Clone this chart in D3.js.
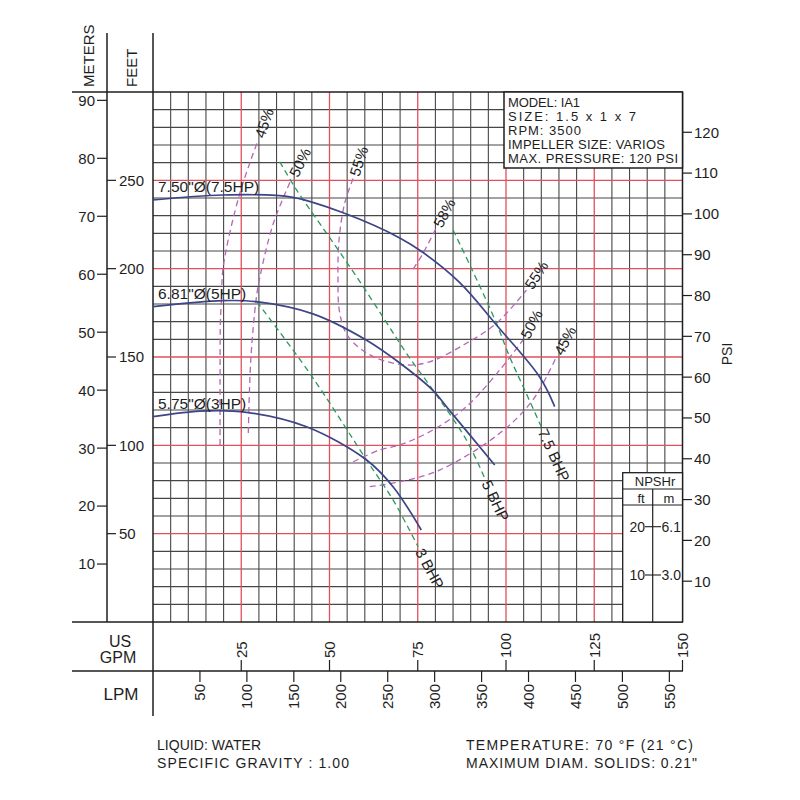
<!DOCTYPE html>
<html><head><meta charset="utf-8">
<script src="https://cdn.jsdelivr.net/npm/d3@7"></script>
<style>
body{margin:0;background:#fff}
text{font-family:"Liberation Sans",Arial,sans-serif;fill:#1e1e1e}
</style>
</head><body>
<svg id="c" width="800" height="800"></svg>
<script>
// ---------------- data (GPM, feet) ----------------
const gpmTicks = [25, 50, 75, 100, 125, 150];
const lpmTicks = [50, 100, 150, 200, 250, 300, 350, 400, 450, 500, 550];
const meterTicks = [10, 20, 30, 40, 50, 60, 70, 80, 90];
const feetTicks = [50, 100, 150, 200, 250];
const psiTicks = [10, 20, 30, 40, 50, 60, 70, 80, 90, 100, 110, 120];

const headLabels = ['7.50"Ø(7.5HP)', '6.81"Ø(5HP)', '5.75"Ø(3HP)'];
const head750 = [[0,238.9],[19.8,241.7],[39.6,240.4],[54.8,230.9],[69.9,217.4],[76.4,209.3],[86.9,192.1],[97.3,168.1],[109.5,138.8],[113.8,121.9]];
const head681 = [[0,178.5],[19.8,181.9],[29.3,181.3],[45.3,174.4],[60.5,159.5],[69.9,146.6],[79.2,131.3],[84.1,119.5],[96.8,88.9]];
const head575 = [[0,116.2],[13.3,119.4],[26.5,118.7],[43.5,110.5],[60.5,91.7],[68.0,76.6],[76.0,52.1]];

const bhpLabels = ["3 BHP", "5 BHP", "7.5 BHP"];
const bhp3 = [[29.4,181.3],[44.4,140.8],[60.5,91.7],[68.0,69.1],[75.1,42.6]];
const bhp5 = [[35.9,260.5],[40.7,244.5],[49.2,220.0],[57.7,195.4],[65.7,170.9],[71.8,152.1],[79.3,131.3],[88.8,103.0],[94.0,81.3]];
const bhp75 = [[85.0,221.9],[90.2,200.2],[97.3,169.1],[101.0,150.2],[105.3,131.3],[110.0,110.5]];

const eff45L = [[19.0,100.2],[19.0,137.0],[19.1,170.9],[19.4,182.3],[19.9,201.1],[24.6,242.7],[29.8,272.8]];
const eff50L = [[27.0,107.0],[27.7,148.3],[29.2,182.3],[30.3,195.4],[34.1,225.7],[39.3,251.1]];
const eff55 = [[56.7,251.1],[54.3,237.0],[52.7,216.2],[52.4,195.5],[52.9,174.9],[55.3,161.5],[62.4,150.2],[71.8,145.5],[78.4,147.3],[88.8,157.8],[97.3,169.1],[105.8,187.9]];
const eff58 = [[73.7,199.8],[76.5,208.7],[80.1,222.5]];
const eff50R = [[56.7,90.7],[64.3,97.4],[69.9,100.2],[79.3,108.7],[88.8,121.9],[98.2,142.6],[104.8,159.6]];
const eff45R = [[61.4,76.6],[69.9,79.4],[81.2,86.0],[98.2,106.8],[107.6,125.7],[114.3,150.2]];

const modelLines = ["MODEL: IA1", "SIZE: 1.5 x 1 x 7", "RPM: 3500", "IMPELLER SIZE: VARIOS", "MAX. PRESSURE: 120 PSI"];
const npshFt = [20, 10];
const npshM = ["6.1", "3.0"];
const footLeft = ["LIQUID: WATER", "SPECIFIC GRAVITY : 1.00"];
const footRight = ["TEMPERATURE: 70 °F (21 °C)", 'MAXIMUM DIAM. SOLIDS: 0.21"'];

const FT_PER_M = 3.2808, FT_PER_PSI = 2.31, LPM_PER_GPM = 3.76;

// ---------------- scales ----------------
const svg = d3.select("#c");
const x = d3.scaleLinear().domain([0, 150]).range([153, 682.5]);
const y = d3.scaleLinear().domain([0, 300]).range([622, 92]);
const xl = d3.scaleLinear().domain([0, 150 * LPM_PER_GPM]).range([153, 682.5]);
const yM = m => y(m * FT_PER_M);
const yP = p => y(p * FT_PER_PSI);

const INK = "#1e1e1e";
const GRAY = "#474747";
const RED = "#e0505d";
const BLUE = "#3c4586";
const GREEN = "#2a9a5a";
const PURPLE = "#b865b6";

// ---------------- grid ----------------
const grid = svg.append("g");
const vLines = d3.range(5, 150, 5);
const hLines = d3.range(10, 300, 10);
grid.selectAll(".vg").data(vLines.filter(v => v % 25)).join("line")
  .attr("x1", d => x(d)).attr("x2", d => x(d)).attr("y1", y(300)).attr("y2", y(0))
  .attr("stroke", GRAY).attr("stroke-width", 1.1);
grid.selectAll(".hg").data(hLines.filter(v => v % 50)).join("line")
  .attr("x1", x(0)).attr("x2", x(150)).attr("y1", d => y(d)).attr("y2", d => y(d))
  .attr("stroke", GRAY).attr("stroke-width", 1.1);
grid.selectAll(".vr").data(vLines.filter(v => v % 25 === 0)).join("line")
  .attr("x1", d => x(d)).attr("x2", d => x(d)).attr("y1", y(300)).attr("y2", y(0))
  .attr("stroke", RED).attr("stroke-width", 1.3);
grid.selectAll(".hr").data(hLines.filter(v => v % 50 === 0)).join("line")
  .attr("x1", x(0)).attr("x2", x(150)).attr("y1", d => y(d)).attr("y2", d => y(d))
  .attr("stroke", RED).attr("stroke-width", 1.3);

// ---------------- frame ----------------
const fr = svg.append("g").attr("stroke", INK).attr("stroke-width", 1.5);
fr.append("line").attr("x1", 72).attr("x2", 683).attr("y1", 92).attr("y2", 92);
fr.append("line").attr("x1", 72).attr("x2", 683).attr("y1", 622).attr("y2", 622);
fr.append("line").attr("x1", 72).attr("x2", 683).attr("y1", 671).attr("y2", 671);
fr.append("line").attr("x1", 107).attr("x2", 107).attr("y1", 33).attr("y2", 622);
fr.append("line").attr("x1", 153).attr("x2", 153).attr("y1", 33).attr("y2", 716);
fr.append("line").attr("x1", 682.5).attr("x2", 682.5).attr("y1", 92).attr("y2", 622);

// header labels
svg.append("text").attr("transform", "translate(94,87) rotate(-90)").attr("font-size", 15).text("METERS");
svg.append("text").attr("transform", "translate(137,87) rotate(-90)").attr("font-size", 15).text("FEET");

// meters axis
svg.selectAll(".mt").data(meterTicks).join("line")
  .attr("x1", 97).attr("x2", 107).attr("y1", d => yM(d)).attr("y2", d => yM(d)).attr("stroke", INK).attr("stroke-width", 1.2);
svg.selectAll(".ml").data(meterTicks).join("text")
  .attr("x", 95).attr("y", d => yM(d)).attr("dy", "0.36em").attr("text-anchor", "end").attr("font-size", 15).text(d => d);
// feet axis
svg.selectAll(".ft").data(feetTicks).join("line")
  .attr("x1", 107).attr("x2", 116).attr("y1", d => y(d)).attr("y2", d => y(d)).attr("stroke", INK).attr("stroke-width", 1.2);
svg.selectAll(".fl").data(feetTicks).join("text")
  .attr("x", 119).attr("y", d => y(d)).attr("dy", "0.36em").attr("font-size", 15).text(d => d);
// psi axis
svg.selectAll(".pt").data(psiTicks).join("line")
  .attr("x1", 682.5).attr("x2", 692).attr("y1", d => yP(d)).attr("y2", d => yP(d)).attr("stroke", INK).attr("stroke-width", 1.2);
svg.selectAll(".pl").data(psiTicks).join("text")
  .attr("x", 694).attr("y", d => yP(d)).attr("dy", "0.36em").attr("font-size", 15).text(d => d);
svg.append("text").attr("transform", "translate(732,354) rotate(-90)").attr("text-anchor", "middle")
  .attr("font-size", 14).text("PSI");

// GPM axis
svg.selectAll(".gt").data(gpmTicks).join("line")
  .attr("x1", d => x(d)).attr("x2", d => x(d)).attr("y1", 660).attr("y2", 671).attr("stroke", INK).attr("stroke-width", 1.2);
svg.selectAll(".gl").data(gpmTicks).join("text")
  .attr("transform", d => `translate(${x(d)},658) rotate(-90)`).attr("dy", "0.36em").attr("font-size", 15).text(d => d);
// LPM axis
svg.selectAll(".lt").data(lpmTicks).join("line")
  .attr("x1", d => xl(d)).attr("x2", d => xl(d)).attr("y1", 671).attr("y2", 682).attr("stroke", INK).attr("stroke-width", 1.2);
svg.selectAll(".ll").data(lpmTicks).join("text")
  .attr("transform", d => `translate(${xl(d)},684) rotate(-90)`).attr("dy", "0.36em").attr("text-anchor", "end").attr("font-size", 15).text(d => d);
svg.append("text").attr("x", 120).attr("y", 647).attr("text-anchor", "middle").attr("font-size", 16).text("US");
svg.append("text").attr("x", 118).attr("y", 663).attr("text-anchor", "middle").attr("font-size", 16).text("GPM");
svg.append("text").attr("x", 121).attr("y", 700).attr("text-anchor", "middle").attr("font-size", 17).text("LPM");

// ---------------- model box ----------------
svg.append("rect").attr("x", 504).attr("y", 92).attr("width", 178.5).attr("height", 76)
  .attr("fill", "#fff").attr("stroke", INK).attr("stroke-width", 1.5);
const modelW = [72, 128, 73, 157, 170];
svg.selectAll(".mdl").data(modelLines).join("text")
  .attr("x", 508).attr("y", (d, i) => 106.5 + i * 14.2).attr("font-size", 13)
  .attr("textLength", (d, i) => modelW[i]).attr("lengthAdjust", "spacing").text(d => d);

// ---------------- NPSHr box ----------------
const nb = svg.append("g");
nb.append("rect").attr("x", 622.7).attr("y", 472.7).attr("width", 59.8).attr("height", 149.3)
  .attr("fill", "#fff").attr("stroke", INK).attr("stroke-width", 1.3);
nb.append("line").attr("x1", 622.7).attr("x2", 682.5).attr("y1", 489).attr("y2", 489).attr("stroke", INK).attr("stroke-width", 1.2);
nb.append("line").attr("x1", 622.7).attr("x2", 682.5).attr("y1", 505).attr("y2", 505).attr("stroke", INK).attr("stroke-width", 1.2);
nb.append("line").attr("x1", 652.7).attr("x2", 652.7).attr("y1", 489).attr("y2", 622).attr("stroke", INK).attr("stroke-width", 1.2);
nb.append("text").attr("x", 655).attr("y", 486).attr("text-anchor", "middle").attr("font-size", 13).text("NPSHr");
nb.append("text").attr("x", 641).attr("y", 502.5).attr("text-anchor", "middle").attr("font-size", 13).text("ft");
nb.append("text").attr("x", 669).attr("y", 502.5).attr("text-anchor", "middle").attr("font-size", 13).text("m");
npshFt.forEach((f, i) => {
  const yy = 526.7 + i * 48.3;
  nb.append("text").attr("x", 645).attr("y", yy).attr("dy", "0.36em").attr("text-anchor", "end").attr("font-size", 14).text(f);
  nb.append("line").attr("x1", 645).attr("x2", 661).attr("y1", yy).attr("y2", yy).attr("stroke", INK).attr("stroke-width", 1.1);
  nb.append("text").attr("x", 661.5).attr("y", yy).attr("dy", "0.36em").attr("font-size", 14).text(npshM[i]);
});

// ---------------- curves ----------------
const line = d3.line().x(d => x(d[0])).y(d => y(d[1])).curve(d3.curveCatmullRom.alpha(0.5));
const cg = svg.append("g").attr("fill", "none");

function endLabel(pts, atStart, text, angle, off, size) {
  const a = atStart ? pts[0] : pts[pts.length - 1];
  const b = atStart ? pts[1] : pts[pts.length - 2];
  const ax = x(a[0]), ay = y(a[1]), bx = x(b[0]), by = y(b[1]);
  const ang = angle != null ? angle : Math.atan2(ay - by, ax - bx) * 180 / Math.PI;
  const r = ang * Math.PI / 180;
  svg.append("text")
    .attr("transform", `translate(${ax + off * Math.cos(r)},${ay + off * Math.sin(r)}) rotate(${ang})`)
    .attr("dy", "0.36em").attr("font-size", size).text(text);
}

// efficiency curves
const effs = [
  {pts: eff45L, labels: [[false, "45%", -71]]},
  {pts: eff50L, labels: [[false, "50%", -63]]},
  {pts: eff55, labels: [[true, "55%", -72], [false, "55%", -57]]},
  {pts: eff58, labels: [[false, "58%", -62]]},
  {pts: eff50R, labels: [[false, "50%", -62]]},
  {pts: eff45R, labels: [[false, "45%", -62]]}
];
effs.forEach(e => {
  cg.append("path").attr("d", line(e.pts)).attr("stroke", PURPLE).attr("stroke-width", 1.3).attr("stroke-dasharray", "6,4");
  e.labels.forEach(l => endLabel(e.pts, l[0], l[1], l[2], 3, 15));
});

// BHP curves
[bhp3, bhp5, bhp75].forEach((b, i) => {
  cg.append("path").attr("d", line(b)).attr("stroke", GREEN).attr("stroke-width", 1.3).attr("stroke-dasharray", "6,4");
  endLabel(b, false, bhpLabels[i], null, 3, 15);
});

// head curves
[head750, head681, head575].forEach((h, i) => {
  cg.append("path").attr("d", line(h)).attr("stroke", BLUE).attr("stroke-width", 1.7);
  svg.append("text").attr("x", x(0) + 5).attr("y", y(h[0][1]) - 8).attr("font-size", 15.5).text(headLabels[i]);
});

// ---------------- footer ----------------
const footLW = [104, 192];
const footRW = [227, 231];
svg.selectAll(".fl1").data(footLeft).join("text")
  .attr("x", 157).attr("y", (d, i) => 750 + i * 18).attr("font-size", 14)
  .attr("textLength", (d, i) => footLW[i]).attr("lengthAdjust", "spacing").text(d => d);
svg.selectAll(".fr1").data(footRight).join("text")
  .attr("x", 466).attr("y", (d, i) => 750 + i * 18).attr("font-size", 14)
  .attr("textLength", (d, i) => footRW[i]).attr("lengthAdjust", "spacing").text(d => d);
</script>
</body></html>
